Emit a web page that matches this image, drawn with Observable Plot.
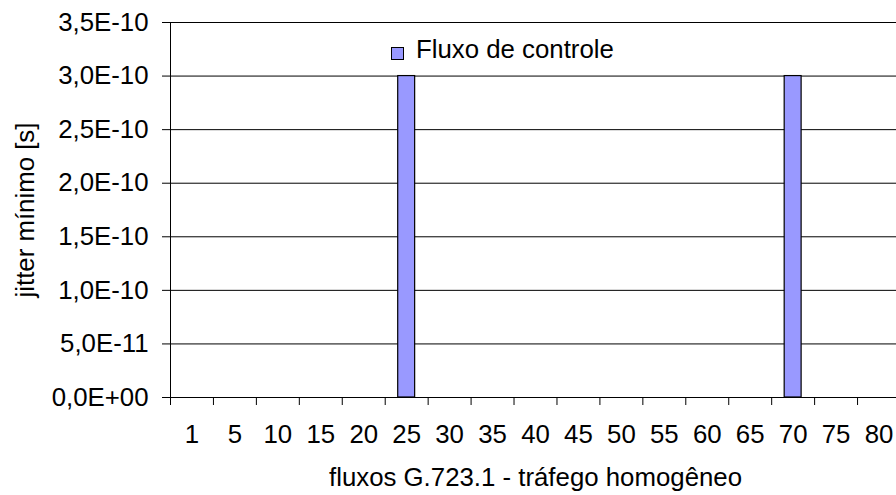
<!DOCTYPE html>
<html><head><meta charset="utf-8">
<script src="https://cdn.jsdelivr.net/npm/d3@7"></script>
<script src="https://cdn.jsdelivr.net/npm/@observablehq/plot@0.6"></script>
<style>
html,body{margin:0;padding:0;background:#fff;overflow:hidden;}
#chart{position:relative;width:896px;height:495px;overflow:hidden;font-family:"Liberation Sans",Arial,sans-serif;}
#chart svg{max-width:none !important;}
#legend{position:absolute;left:391px;top:35px;display:flex;align-items:center;font-size:25.8px;color:#000;white-space:nowrap;}
#legend .sw{width:11px;height:11px;background:#9999FF;border:1px solid #000;margin-right:12px;position:relative;top:4px;}
</style>
</head><body>
<div id="chart"><div id="legend"></div></div>
<script>
const categories = ["1","5","10","15","20","25","30","35","40","45","50","55","60","65","70","75","80"];
const seriesName = "Fluxo de controle";
const jitterValues = [0,0,0,0,0,3.0e-10,0,0,0,0,0,0,0,0,3.0e-10,0,0];
const yTicks = [0,5e-11,1.0e-10,1.5e-10,2.0e-10,2.5e-10,3.0e-10,3.5e-10];
const xTitle = "fluxos G.723.1 - tráfego homogêneo";
const yTitle = "jitter mínimo [s]";

const data = categories.map((c,i)=>({cat:c, value:jitterValues[i]}));

function fmtE(d){
  const [m,e] = d.toExponential(1).split("e");
  const sign = e[0]==="-" ? "-" : "+";
  const ex = String(Math.abs(+e)).padStart(2,"0");
  return m.replace(".",",")+"E"+sign+ex;
}

const W = 900, ML = 170, MR = 0;
const bw = (W-ML-MR)/categories.length;

const chart = Plot.plot({
  width: W, height: 495,
  marginLeft: ML, marginRight: MR, marginTop: 22, marginBottom: 98,
  style: {fontFamily:"'Liberation Sans', Arial, sans-serif", fontSize:"25.8px", color:"#000", background:"#fff", overflow:"visible", maxWidth:"none"},
  x: {type:"band", domain: categories, padding: 0, round: false},
  y: {domain:[0,3.5e-10]},
  marks: [
    Plot.ruleY(yTicks, {stroke:"#000", strokeWidth:1}),
    Plot.frame({anchor:"left", stroke:"#000"}),
    Plot.barY(data.filter(d=>d.value>0), {x:"cat", y:"value", fill:"#9999FF", stroke:"#000", strokeWidth:1.2, insetLeft:13, insetRight:13}),
    Plot.axisY({ticks: yTicks, tickFormat: fmtE, tickSize: 8, tickPadding: 14, label: yTitle, labelAnchor:"center", labelArrow:"none", labelOffset:155}),
    Plot.axisX({tickSize: 8, tickFormat: () => "", dx: -bw/2, label: null}),
    Plot.axisX({tickSize: 0, tickPadding: 27, label: xTitle, labelAnchor:"center", labelArrow:"none", labelOffset: 88})
  ]
});
document.getElementById("chart").appendChild(chart);
const lg = document.getElementById("legend");
lg.innerHTML = '<span class="sw"></span><span></span>';
lg.lastChild.textContent = seriesName;
</script>
</body></html>
